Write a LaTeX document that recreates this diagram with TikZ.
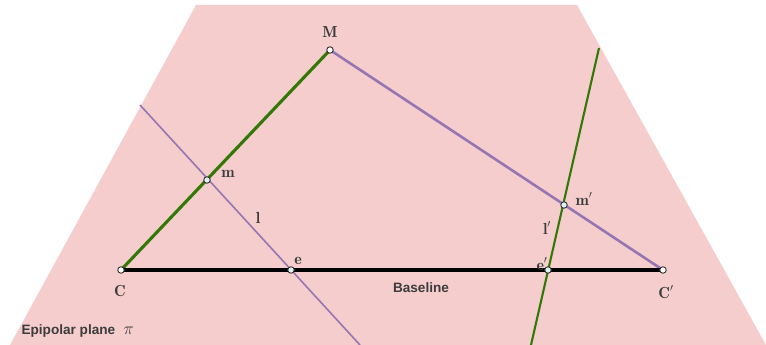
\documentclass[tikz,border=0pt]{standalone}
\usepackage{fontspec}
\newfontfamily\labelsans{Liberation Sans}
\definecolor{planepink}{RGB}{246,205,205}
\definecolor{epgreen}{RGB}{50,120,5}
\definecolor{eppurple}{RGB}{150,118,178}
\definecolor{ptblue}{RGB}{225,240,240}
\definecolor{txtgray}{RGB}{60,60,60}
\tikzset{
  ptw/.style={circle,draw=black!80,fill=white,line width=0.9pt,inner sep=0pt,minimum size=6.5pt},
  ptb/.style={circle,draw=black!80,fill=ptblue,line width=0.9pt,inner sep=0pt,minimum size=6.5pt},
  lbl/.style={font=\fontsize{16}{18}\selectfont,text=txtgray},
  sanslbl/.style={font=\labelsans\bfseries\fontsize{13.6}{15}\selectfont,text=txtgray},
}
\begin{document}
\begin{tikzpicture}[x=1pt,y=-1pt]
\useasboundingbox (0,0) rectangle (766,345);
% plane
\fill[planepink] (196,5) -- (577,5) -- (766,345) -- (10,345) -- cycle;
% coordinates
\coordinate (M) at (330,50);
\coordinate (C) at (121,270);
\coordinate (Cp) at (663,270);
\coordinate (e) at (291,270);
\coordinate (ep) at (548,270);
\coordinate (m) at (207,180);
\coordinate (mp) at (564,205);
\coordinate (lt) at (140,105);
\coordinate (lb) at (360,345);
\coordinate (lpt) at (599,48);
\coordinate (lpb) at (531,345);
% lines
\draw[eppurple,line width=1.6pt] (lt) -- (lb);
\draw[epgreen,line width=2.1pt] (lpt) -- (lpb);
\draw[eppurple,line width=2.6pt] (M) -- (Cp);
\draw[epgreen,line width=3.1pt] (C) -- (M);
\draw[black,line width=3.6pt] (C) -- (Cp);
% points
\node[ptw] (nM) at (M) {};
\node[ptw] (nC) at (C) {};
\node[ptw] (nCp) at (Cp) {};
\node[ptb] (ne) at (e) {};
\node[ptb] (nep) at (ep) {};
\node[ptb] (nm) at (m) {};
\node[ptb] (nmp) at (mp) {};
% labels
\node[lbl] (tM) at (330,32) {$\mathbf{M}$};
\node[lbl] (tC) at (120,291) {$\mathbf{C}$};
\node[lbl] (tCp) at (666,292) {$\mathbf{C}'$};
\node[lbl] (te) at (298,261) {$\mathbf{e}$};
\node[lbl] (tep) at (542,264) {$\mathbf{e}'$};
\node[lbl] (tm) at (228,174) {$\mathbf{m}$};
\node[lbl] (tmp) at (584,199) {$\mathbf{m}'$};
\node[lbl] (tl) at (258,218) {$\mathbf{l}$};
\node[lbl] (tlp) at (547,228) {$\mathbf{l}'$};
\node[sanslbl] (tb) at (421,288) {Baseline};
\node[sanslbl,anchor=west] (tpl) at (18,331) {Epipolar plane\,\, {\normalfont\fontsize{16}{18}\selectfont$\pi$}};
\end{tikzpicture}
\end{document}
